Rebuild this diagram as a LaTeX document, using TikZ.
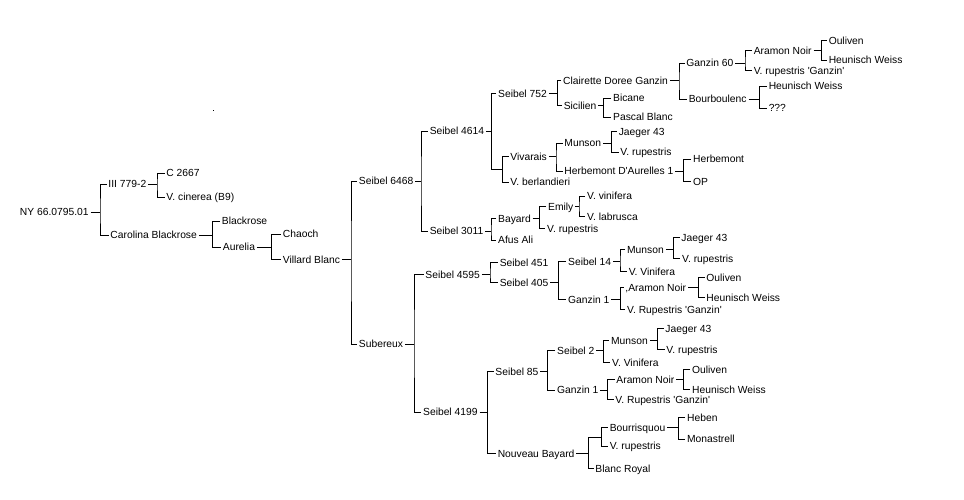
\documentclass[tikz,border=0pt]{standalone}
\usepackage{fontspec}
\setmainfont{Liberation Sans}
\newcommand\pedfam[4]{\draw (#1.east) -- (#2,0 |- #1.east); \draw (#3.west) -| (#2,0 |- #1.east) |- (#4.west);}
\newcommand\sq{\textquotesingle}
\begin{document}
\begin{tikzpicture}[x=1pt,y=-1pt,line width=0.9pt,
  lbl/.style={anchor=west, inner xsep=1.5pt, inner ysep=0pt, xshift=-1.5pt,
    text height=8pt, text depth=0.6pt, font=\fontsize{10.3}{12}\selectfont}]
\useasboundingbox (0,0) rectangle (964,500);
\fill (212.8,110.5) rectangle (213.8,111.5);
% level 0-2
\node[lbl] (n1) at (19.5,212) {NY 66.0795.01};
\node[lbl] (a) at (108,184) {III 779-2};
\node[lbl] (b) at (110,235) {Carolina Blackrose};
\node[lbl] (a1) at (166,173) {C 2667};
\node[lbl] (a2) at (166,197) {V. cinerea (B9)};
\node[lbl] (b1) at (221.5,221) {Blackrose};
\node[lbl] (b2) at (222.5,247) {Aurelia};
\node[lbl] (b21) at (282.5,234) {Chaoch};
\node[lbl] (b22) at (282.5,259.5) {Villard Blanc};
\node[lbl] (c1) at (358.5,181) {Seibel 6468};
\node[lbl] (c2) at (358.5,344) {Subereux};
% Seibel 6468 branch
\node[lbl] (d1) at (429.3,131) {Seibel 4614};
\node[lbl] (d2) at (429.3,231) {Seibel 3011};
\node[lbl] (e1) at (497.7,93.5) {Seibel 752};
\node[lbl] (e2) at (510,156.7) {Vivarais};
\node[lbl] (e3) at (510,182) {V. berlandieri};
\coordinate (v4614) at (502.3,169.3);
\node[lbl] (f1) at (562.7,80.7) {Clairette Doree Ganzin};
\node[lbl] (f2) at (563.3,105.7) {Sicilien};
\node[lbl] (g1) at (686,63.3) {Ganzin 60};
\node[lbl] (g2) at (688.3,99) {Bourboulenc};
\node[lbl] (h1) at (753.3,50.7) {Aramon Noir};
\node[lbl] (h2) at (753.3,70.7) {V. rupestris \sq Ganzin\sq};
\node[lbl] (i1) at (828.3,40.7) {Ouliven};
\node[lbl] (i2) at (828.3,60) {Heunisch Weiss};
\node[lbl] (h3) at (768.3,86) {Heunisch Weiss};
\node[lbl] (h4) at (768.3,108.3) {???};
\node[lbl] (f3) at (612.7,98.3) {Bicane};
\node[lbl] (f4) at (612.7,117.3) {Pascal Blanc};
\node[lbl] (j1) at (564,143.3) {Munson};
\node[lbl] (j2) at (564,171) {Herbemont D\sq Aurelles 1};
\node[lbl] (j11) at (618.3,131.7) {Jaeger 43};
\node[lbl] (j12) at (620,152.3) {V. rupestris};
\node[lbl] (j21) at (692.7,159.3) {Herbemont};
\node[lbl] (j22) at (692.7,181.7) {OP};
\node[lbl] (k1) at (497.7,218.3) {Bayard};
\node[lbl] (k2) at (497.7,240) {Afus Ali};
\node[lbl] (k11) at (547.7,206.7) {Emily};
\node[lbl] (k12) at (546.7,228.3) {V. rupestris};
\node[lbl] (k111) at (586.7,196) {V. vinifera};
\node[lbl] (k112) at (586.7,216.7) {V. labrusca};
% Subereux branch
\node[lbl] (m1) at (425,274.3) {Seibel 4595};
\node[lbl] (m2) at (422.7,412) {Seibel 4199};
\node[lbl] (m11) at (499.3,262.7) {Seibel 451};
\node[lbl] (m12) at (499.3,282.7) {Seibel 405};
\node[lbl] (m121) at (567.7,261.7) {Seibel 14};
\node[lbl] (m122) at (567.7,299.3) {Ganzin 1};
\node[lbl] (p1) at (626.7,249.3) {Munson};
\node[lbl] (p2) at (628.3,271.7) {V. Vinifera};
\node[lbl] (p11) at (681,237.5) {Jaeger 43};
\node[lbl] (p12) at (681.7,258.3) {V. rupestris};
\node[lbl] (q1) at (625,287.3) {,Aramon Noir};
\node[lbl] (q2) at (626.7,309.3) {V. Rupestris \sq Ganzin\sq};
\node[lbl] (q11) at (706,277.3) {Ouliven};
\node[lbl] (q12) at (706,297.3) {Heunisch Weiss};
\node[lbl] (r1) at (495,371.7) {Seibel 85};
\node[lbl] (r2) at (497.3,453.3) {Nouveau Bayard};
\coordinate (vNB) at (601.7,437);
\node[lbl] (r11) at (556.7,350.7) {Seibel 2};
\node[lbl] (r12) at (556.7,390) {Ganzin 1};
\node[lbl] (s1) at (610.7,340.7) {Munson};
\node[lbl] (s2) at (611.7,362.7) {V. Vinifera};
\node[lbl] (s11) at (665,328.3) {Jaeger 43};
\node[lbl] (s12) at (666,349.3) {V. rupestris};
\node[lbl] (t1) at (616,379.3) {Aramon Noir};
\node[lbl] (t2) at (615,399.3) {V. Rupestris \sq Ganzin\sq};
\node[lbl] (t11) at (691.7,369.3) {Ouliven};
\node[lbl] (t12) at (691.7,389.3) {Heunisch Weiss};
\node[lbl] (u1) at (609.3,427.3) {Bourrisquou};
\node[lbl] (u2) at (609.3,446) {V. rupestris};
\node[lbl] (u3) at (595,468.3) {Blanc Royal};
\node[lbl] (u11) at (686.7,417.7) {Heben};
\node[lbl] (u12) at (686.7,439) {Monastrell};
% connectors
\pedfam{n1}{100}{a}{b}
\pedfam{a}{157}{a1}{a2}
\pedfam{b}{212.3}{b1}{b2}
\pedfam{b2}{271.7}{b21}{b22}
\pedfam{b22}{351}{c1}{c2}
\pedfam{c1}{421}{d1}{d2}
\draw (d1.east) -- (491.7,0 |- d1.east);
\draw (e1.west) -| (491.7,0 |- d1.east) |- (v4614);
\draw (e2.west) -| (v4614) |- (e3.west);
\pedfam{e1}{557.3}{f1}{f2}
\pedfam{f1}{679}{g1}{g2}
\pedfam{g1}{745}{h1}{h2}
\pedfam{h1}{821.7}{i1}{i2}
\pedfam{g2}{759.3}{h3}{h4}
\pedfam{f2}{603.3}{f3}{f4}
\pedfam{e2}{556}{j1}{j2}
\pedfam{j1}{611.7}{j11}{j12}
\pedfam{j2}{683.3}{j21}{j22}
\pedfam{d2}{491}{k1}{k2}
\pedfam{k1}{539.3}{k11}{k12}
\pedfam{k11}{579}{k111}{k112}
\pedfam{c2}{414}{m1}{m2}
\pedfam{m1}{490}{m11}{m12}
\pedfam{m12}{558.3}{m121}{m122}
\pedfam{m121}{620}{p1}{p2}
\pedfam{p1}{673.3}{p11}{p12}
\pedfam{m122}{620.7}{q1}{q2}
\pedfam{q1}{698.3}{q11}{q12}
\pedfam{m2}{487.3}{r1}{r2}
\pedfam{r1}{547.3}{r11}{r12}
\pedfam{r11}{603.3}{s1}{s2}
\pedfam{s1}{657.7}{s11}{s12}
\pedfam{r12}{607.3}{t1}{t2}
\pedfam{t1}{683.3}{t11}{t12}
\draw (r2.east) -- (588.3,0 |- r2.east);
\draw (vNB) -| (588.3,0 |- r2.east) |- (u3.west);
\draw (u1.west) -| (vNB) |- (u2.west);
\pedfam{u1}{678.3}{u11}{u12}
\end{tikzpicture}
\end{document}
